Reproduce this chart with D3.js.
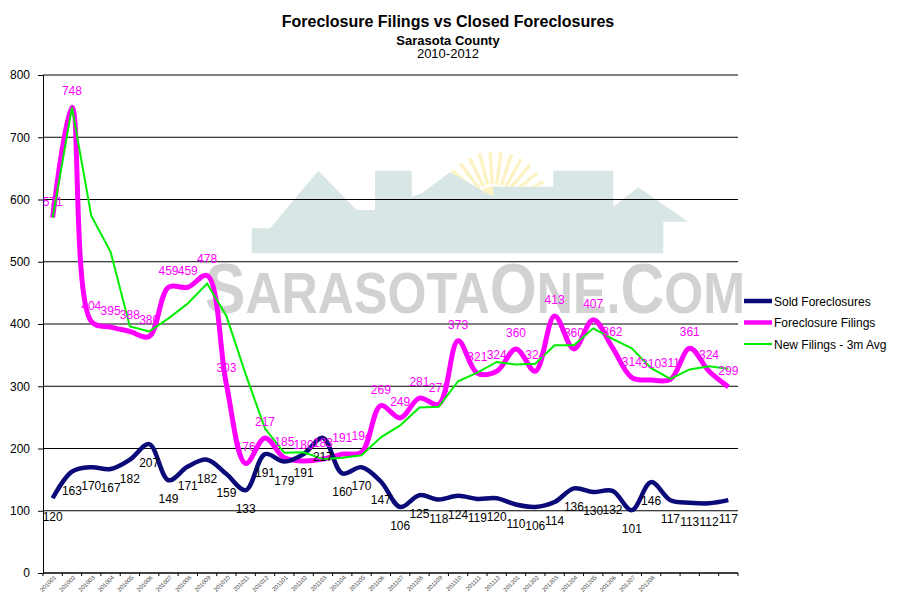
<!DOCTYPE html>
<html><head><meta charset="utf-8">
<script src="https://cdn.jsdelivr.net/npm/d3@7"></script>
<style>body{margin:0;background:#fff}svg{display:block;font-family:Arial,"Liberation Sans",sans-serif}</style>
</head><body><svg id="c" width="900" height="611"></svg>
<script>
const months = ["201001","201002","201003","201004","201005","201006","201007","201008","201009","201010","201011","201012",
"201101","201102","201103","201104","201105","201106","201107","201108","201109","201110","201111","201112",
"201201","201202","201203","201204","201205","201206","201207","201208","","","",""];
const sold = [120,163,170,167,182,207,149,171,182,159,133,191,179,191,217,160,170,147,106,125,118,124,119,120,110,106,114,136,130,132,101,146,117,113,112,117];
const filings = [571,748,404,395,388,380,459,459,478,303,176,217,185,180,183,191,194,269,249,281,271,373,321,324,360,324,413,360,407,362,314,310,311,361,324,299];
const avg3m = [571,748,574,516,396,388,409,433,465,413,319,232,193,194,183,185,189,218,237,266,267,308,322,339,335,336,366,366,393,376,361,329,312,327,332,328];
const yTicks = [0,100,200,300,400,500,600,700,800];
const seriesNames = ["Sold Foreclosures","Foreclosure Filings","New Filings - 3m Avg"];

const svg = d3.select("#c");
const L = 43, R = 738, T = 75, B = 573;
const x = d3.scaleBand().domain(d3.range(months.length)).range([L, R]);
const y = d3.scaleLinear().domain([0, 800]).range([B, T]);
const cx = i => x(i) + x.bandwidth() / 2;

// watermark
const wm = svg.append("g");
const house = [[251.7,228.3],[270,228.3],[318.3,170.7],[356.7,210],[375,210],[375,170.7],[411.7,170.7],[411.7,196.7],[421.7,193.3],[450,172.3],[493.3,196.7],[493.3,186.7],[553.3,186.7],[553.3,170.7],[613.3,170.7],[613.3,206.7],[638.3,187.3],[688.3,221.7],[663.3,221.7],[663.3,253.3],[251.7,253.3]];
const sun = wm.append("g").attr("transform","translate(494,208)");
for (let a = -160; a <= -20; a += 11) {
  const r = a * Math.PI / 180;
  sun.append("line").attr("x1", 24*Math.cos(r)).attr("y1", 24*Math.sin(r))
    .attr("x2", 56*Math.cos(r)).attr("y2", 56*Math.sin(r))
    .attr("stroke","#fcf3c4").attr("stroke-width",3.5);
}
sun.append("path").attr("d", d3.arc()({innerRadius:0, outerRadius:22, startAngle:-Math.PI/2, endAngle:Math.PI/2})).attr("fill","#fcf3c4");
wm.append("polygon").attr("points", house.map(p => p.join(",")).join(" ")).attr("fill","#d9e6e6");
const wt = wm.append("text").attr("x",205).attr("y",313).attr("fill","#d2d2d2").attr("font-weight","bold")
  .attr("textLength",540).attr("lengthAdjust","spacingAndGlyphs");
[["S",70],["ARASOTA",58],["O",70],["NE.",58],["C",70],["OM",58]].forEach(([t,s]) => wt.append("tspan").attr("font-size",s).text(t));

// gridlines
svg.append("g").selectAll("line").data(yTicks.filter(d => d > 0)).join("line")
  .attr("x1", L).attr("x2", R).attr("y1", d => y(d)).attr("y2", d => y(d))
  .attr("stroke", "#000").attr("stroke-width", 1);

// y axis
const ya = svg.append("g").attr("transform", `translate(${L},0)`)
  .call(d3.axisLeft(y).tickValues(yTicks).tickSize(5).tickPadding(8).tickFormat(d3.format("d")));
ya.select(".domain").attr("stroke","#000");
ya.selectAll("text").attr("font-size", 12).attr("fill", "#000").attr("font-family","Arial,'Liberation Sans',sans-serif");

// x axis
svg.append("line").attr("x1", L).attr("x2", R).attr("y1", B).attr("y2", B).attr("stroke","#000").attr("stroke-width",1.5);
svg.append("g").selectAll("line").data(d3.range(months.length + 1)).join("line")
  .attr("x1", i => L + i * x.bandwidth()).attr("x2", i => L + i * x.bandwidth())
  .attr("y1", B).attr("y2", B + 3).attr("stroke","#000");
svg.append("g").selectAll("text").data(months).join("text")
  .attr("transform", (d, i) => `translate(${cx(i) + 4},${B + 5}) rotate(-45)`)
  .attr("text-anchor", "end").attr("font-size", 6).attr("fill", "#444").text(d => d);

// lines
const smooth = d3.line().x((d, i) => cx(i)).y(d => y(d)).curve(d3.curveCatmullRom.alpha(0.5));
const straight = d3.line().x((d, i) => cx(i)).y(d => y(d));
svg.append("path").attr("d", smooth(filings)).attr("fill","none").attr("stroke","#ff00ff").attr("stroke-width",5).attr("stroke-linejoin","round");
svg.append("path").attr("d", smooth(sold)).attr("fill","none").attr("stroke","#0a0a78").attr("stroke-width",4.5).attr("stroke-linejoin","round");
svg.append("path").attr("d", straight(avg3m)).attr("fill","none").attr("stroke","#00ee00").attr("stroke-width",2);

// labels
svg.append("g").selectAll("text").data(filings).join("text")
  .attr("x", (d, i) => cx(i)).attr("y", d => y(d) - 12).attr("text-anchor","middle")
  .attr("font-size", 12).attr("fill", "#ff00ff").text(d => d);
svg.append("g").selectAll("text").data(sold).join("text")
  .attr("x", (d, i) => cx(i)).attr("y", d => y(d) + 23).attr("text-anchor","middle")
  .attr("font-size", 12).attr("fill", "#000").text(d => d);

// titles
svg.append("text").attr("x",448).attr("y",27).attr("text-anchor","middle").attr("font-size",16).attr("font-weight","bold").text("Foreclosure Filings vs Closed Foreclosures");
svg.append("text").attr("x",448).attr("y",45).attr("text-anchor","middle").attr("font-size",13).attr("font-weight","bold").text("Sarasota County");
svg.append("text").attr("x",448).attr("y",58).attr("text-anchor","middle").attr("font-size",13).text("2010-2012");

// legend
const legColors = ["#0a0a78","#ff00ff","#00ee00"];
const legW = [4.5,4.5,2];
const lg = svg.append("g").selectAll("g").data(seriesNames).join("g")
  .attr("transform", (d, i) => `translate(744,${301 + i * 21.5})`);
lg.append("line").attr("x1",0).attr("x2",28).attr("stroke",(d,i)=>legColors[i]).attr("stroke-width",(d,i)=>legW[i]);
lg.append("text").attr("x",30).attr("y",4.5).attr("font-size",12).attr("fill","#000").text(d => d);
</script></body></html>
